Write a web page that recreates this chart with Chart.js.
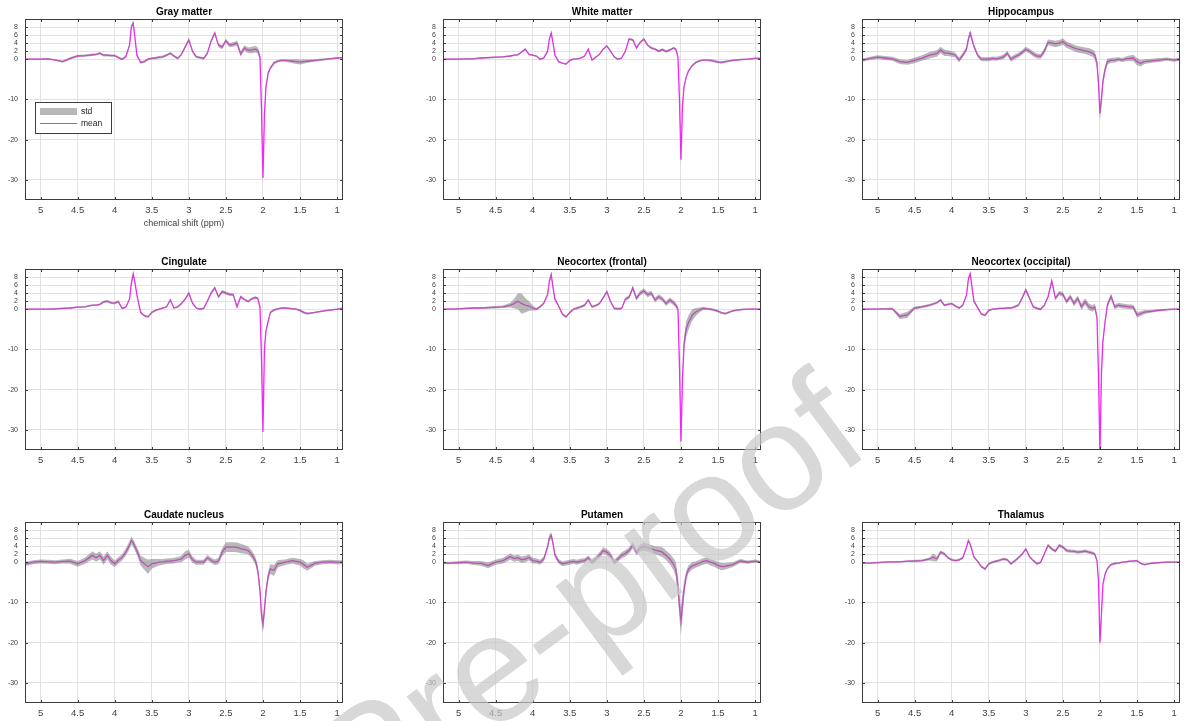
<!DOCTYPE html>
<html>
<head>
<meta charset="utf-8">
<script src="https://cdn.jsdelivr.net/npm/chart.js@4.4.1/dist/chart.umd.min.js"></script>
<style>
  html, body { margin: 0; padding: 0; background: #fff; }
  body { position: relative; width: 1186px; height: 721px; overflow: hidden; }
  canvas { position: absolute; }
  #wm { position: absolute; left: 0; top: 0; pointer-events: none; }
</style>
</head>
<body>
<script>
// chemical shift grid (ppm), shared by every panel
const ppm = [
  5.20, 5.10, 5.00, 4.90, 4.80, 4.70, 4.60, 4.50, 4.40, 4.30,
  4.25, 4.20, 4.15, 4.10, 4.05, 4.00, 3.95, 3.90, 3.85, 3.80,
  3.775, 3.75, 3.725, 3.70, 3.65, 3.60, 3.55, 3.50, 3.45, 3.40,
  3.35, 3.30, 3.25, 3.20, 3.15, 3.10, 3.05, 3.00, 2.95, 2.90,
  2.85, 2.80, 2.75, 2.70, 2.65, 2.60, 2.55, 2.50, 2.45, 2.40,
  2.35, 2.30, 2.25, 2.20, 2.15, 2.10, 2.07, 2.04, 2.02, 2.00,
  1.98, 1.96, 1.93, 1.90, 1.85, 1.80, 1.75, 1.70, 1.65, 1.60,
  1.55, 1.50, 1.45, 1.40, 1.30, 1.20, 1.10, 1.00, 0.92
];
const xTicks = [5, 4.5, 4, 3.5, 3, 2.5, 2, 1.5, 1];
const yTicks = [-30, -20, -10, 0, 2, 4, 6, 8];

const grayMean = [
  0, 0, 0, 0.1, -0.2, -0.6, 0.2, 0.8, 0.9, 1.1,
  1.2, 1.5, 1.0, 1.0, 0.9, 0.9, 0.4, 0.0, 0.6, 3.5,
  8.0, 9.0, 5.0, 1.0, -0.8, -0.6, 0.0, 0.2, 0.3, 0.5,
  0.6, 1.0, 1.5, 0.8, 0.2, 1.2, 3.0, 4.8, 2.0, 0.6,
  0.4, 0.2, 1.5, 4.5, 6.5, 3.5, 3.0, 4.6, 3.5, 3.7,
  4.0, 1.3, 2.8, 2.2, 2.3, 2.5, 2.2, 0.5, -12, -29.5,
  -14, -7, -3.5, -2.2, -0.9, -0.5, -0.3, -0.3, -0.4, -0.5,
  -0.6, -0.7, -0.6, -0.5, -0.3, -0.1, 0.1, 0.3, 0.4
];
const grayStd = [
  0.2, 0.2, 0.2, 0.2, 0.2, 0.3, 0.3, 0.3, 0.3, 0.3,
  0.3, 0.3, 0.3, 0.3, 0.3, 0.3, 0.3, 0.3, 0.3, 0.4,
  0.5, 0.5, 0.5, 0.4, 0.3, 0.3, 0.3, 0.3, 0.3, 0.3,
  0.3, 0.3, 0.3, 0.3, 0.3, 0.3, 0.4, 0.5, 0.4, 0.3,
  0.3, 0.3, 0.3, 0.4, 0.5, 0.5, 0.5, 0.5, 0.5, 0.6,
  0.6, 0.7, 0.7, 0.7, 0.8, 0.8, 0.8, 0.8, 1.0, 1.2,
  1.0, 0.8, 0.5, 0.4, 0.4, 0.3, 0.3, 0.3, 0.4, 0.5,
  0.6, 0.6, 0.5, 0.4, 0.3, 0.3, 0.2, 0.2, 0.2
];

const whiteMean = [
  0, 0, 0, 0.1, 0.1, 0.3, 0.4, 0.5, 0.6, 0.8,
  1.0, 1.1, 1.8, 2.5, 1.2, 1.0, 0.8, 0.0, 0.3, 2.0,
  5.0, 6.5, 4.0, 1.0, -0.6, -1.0, -1.2, -0.3, 0.0, 0.1,
  0.3, 0.8, 2.5, -0.2, 0.5, 1.2, 2.5, 3.3, 2.0, 0.6,
  0.0, 0.3, 2.0, 5.0, 4.8, 2.8, 4.2, 5.0, 3.5, 2.8,
  2.5, 2.0, 2.4, 1.9, 2.3, 2.8, 2.5, 0.5, -10, -25,
  -12, -7, -4.5, -3.0, -1.6, -0.8, -0.4, -0.2, -0.2, -0.3,
  -0.5, -0.7, -0.8, -0.6, -0.3, -0.1, 0.0, 0.2, 0.2
];
const whiteStd = [
  0.2, 0.2, 0.2, 0.2, 0.2, 0.2, 0.2, 0.2, 0.2, 0.2,
  0.2, 0.2, 0.2, 0.3, 0.2, 0.2, 0.2, 0.2, 0.2, 0.3,
  0.3, 0.3, 0.3, 0.2, 0.2, 0.2, 0.2, 0.2, 0.2, 0.2,
  0.2, 0.2, 0.2, 0.2, 0.2, 0.2, 0.2, 0.2, 0.2, 0.2,
  0.2, 0.2, 0.2, 0.3, 0.3, 0.3, 0.3, 0.3, 0.3, 0.3,
  0.3, 0.3, 0.3, 0.3, 0.3, 0.3, 0.3, 0.4, 0.8, 1.5,
  0.8, 0.5, 0.4, 0.3, 0.3, 0.3, 0.2, 0.2, 0.2, 0.3,
  0.3, 0.3, 0.3, 0.3, 0.2, 0.2, 0.2, 0.2, 0.2
];

const hippoMean = [
  -0.2, 0.2, 0.5, 0.3, 0.1, -0.6, -0.8, -0.3, 0.3, 1.0,
  1.2, 1.4, 2.3, 1.6, 1.5, 1.3, 1.0, -0.2, 1.0, 2.5,
  5.0, 6.5, 4.8, 3.2, 1.0, 0.0, 0.0, 0.0, 0.2, 0.1,
  0.3, 0.6, 1.5, 0.0, 0.6, 1.0, 1.7, 2.5, 2.0, 1.3,
  0.8, 0.7, 2.0, 4.2, 4.0, 3.8, 4.0, 4.4, 3.6, 3.2,
  2.8, 2.5, 2.3, 2.1, 1.9, 1.5, 1.0, -1.0, -6, -13.5,
  -10, -5.5, -2.5, -0.6, -0.3, -0.2, 0.0, -0.2, 0.1, 0.2,
  0.3, -0.6, -1.0, -0.6, -0.4, -0.2, 0.0, -0.2, 0.0
];
const hippoStd = [
  0.4, 0.4, 0.5, 0.5, 0.5, 0.6, 0.6, 0.7, 0.7, 0.8,
  0.8, 0.8, 0.8, 0.8, 0.7, 0.7, 0.6, 0.6, 0.6, 0.6,
  0.7, 0.7, 0.6, 0.6, 0.5, 0.5, 0.5, 0.5, 0.5, 0.5,
  0.5, 0.6, 0.6, 0.6, 0.6, 0.6, 0.6, 0.6, 0.6, 0.6,
  0.6, 0.6, 0.7, 0.7, 0.8, 0.8, 0.8, 0.8, 0.8, 0.8,
  0.8, 0.8, 0.8, 0.8, 0.9, 0.9, 1.0, 1.2, 1.6, 2.0,
  1.6, 1.2, 1.0, 0.8, 0.6, 0.6, 0.5, 0.5, 0.6, 0.7,
  0.8, 0.9, 0.8, 0.6, 0.5, 0.5, 0.4, 0.4, 0.4
];

const cingMean = [
  0, 0, 0, 0, 0.1, 0.2, 0.3, 0.5, 0.6, 1.0,
  1.0, 1.2, 1.8, 2.0, 1.6, 1.5, 1.9, 0.2, 0.5, 2.5,
  6.5, 8.8, 6.5, 3.5, -0.8, -1.6, -1.9, -0.8, -0.3, 0.0,
  0.3, 0.6, 2.3, 0.3, 0.6, 1.4, 2.5, 4.0, 1.5, 0.3,
  0.0, 0.2, 2.0, 4.0, 5.3, 3.1, 4.4, 4.0, 3.7, 3.6,
  0.6, 3.1, 2.4, 1.9, 2.6, 2.9, 2.7, 0.5, -12, -30.5,
  -10, -5.5, -3.0, -0.8, -0.2, 0.1, 0.3, 0.3, 0.2, 0.1,
  0.0, -0.3, -0.8, -1.1, -0.8, -0.5, -0.2, 0.0, 0.3
];
const cingStd = [
  0.2, 0.2, 0.2, 0.2, 0.2, 0.2, 0.2, 0.2, 0.2, 0.2,
  0.2, 0.2, 0.3, 0.3, 0.3, 0.3, 0.3, 0.2, 0.2, 0.3,
  0.4, 0.4, 0.4, 0.3, 0.3, 0.3, 0.3, 0.3, 0.2, 0.2,
  0.2, 0.2, 0.3, 0.2, 0.2, 0.3, 0.3, 0.4, 0.3, 0.2,
  0.2, 0.2, 0.3, 0.4, 0.4, 0.4, 0.4, 0.4, 0.4, 0.4,
  0.4, 0.4, 0.3, 0.3, 0.3, 0.3, 0.3, 0.4, 0.8, 1.0,
  0.8, 0.5, 0.4, 0.3, 0.3, 0.2, 0.2, 0.2, 0.2, 0.2,
  0.2, 0.3, 0.3, 0.3, 0.2, 0.2, 0.2, 0.2, 0.2
];

const frontMean = [
  0, 0, 0.1, 0.2, 0.3, 0.3, 0.4, 0.5, 0.6, 1.0,
  1.4, 2.0, 1.4, 1.0, 0.8, 0.3, 0.0, 0.6, 1.5, 3.6,
  7.0, 8.6, 5.3, 2.5, 0.8, -1.2, -1.9, -0.8, 0.0, 0.3,
  0.6, 1.0, 2.3, 0.6, 0.9, 1.4, 2.8, 4.4, 1.9, 0.2,
  0.1, 0.2, 2.5, 3.0, 5.3, 2.7, 4.0, 4.6, 3.6, 4.0,
  2.3, 3.1, 2.5, 1.4, 2.3, 1.6, 1.0, 0.0, -14, -32.9,
  -18, -9, -5, -3.4, -1.5, -0.7, -0.2, 0.2, 0.1, 0.0,
  -0.2, -0.5, -0.9, -1.1, -0.4, -0.1, 0.0, 0.0, 0.0
];
const frontStd = [
  0.2, 0.2, 0.2, 0.2, 0.2, 0.2, 0.3, 0.3, 0.3, 0.6,
  1.2, 2.0, 2.5, 1.8, 1.2, 0.6, 0.3, 0.3, 0.3, 0.4,
  0.5, 0.5, 0.5, 0.4, 0.3, 0.3, 0.3, 0.3, 0.3, 0.3,
  0.3, 0.3, 0.3, 0.3, 0.3, 0.3, 0.3, 0.4, 0.3, 0.3,
  0.3, 0.3, 0.4, 0.5, 0.6, 0.6, 0.6, 0.6, 0.6, 0.6,
  0.6, 0.6, 0.6, 0.6, 0.6, 0.6, 0.6, 0.6, 1.0, 1.0,
  1.5, 2.0, 2.0, 1.8, 1.4, 1.0, 0.6, 0.4, 0.3, 0.3,
  0.3, 0.3, 0.3, 0.3, 0.2, 0.2, 0.2, 0.2, 0.2
];

const occMean = [
  0, 0, 0, 0.1, 0.1, -1.8, -1.4, 0.3, 0.6, 1.0,
  1.3, 1.6, 2.3, 1.0, 1.2, 1.4, 0.8, 0.3, 1.0, 3.5,
  7.5, 8.8, 5.3, 2.0, 0.4, -1.2, -1.5, -0.3, 0.0, 0.1,
  0.2, 0.2, 0.3, 0.3, 0.6, 1.0, 2.8, 4.8, 2.7, 0.6,
  0.2, 0.0, 1.0, 3.1, 7.0, 2.7, 4.0, 3.7, 1.9, 3.1,
  1.4, 2.7, 0.6, 1.9, 0.6, 0.2, 0.6, -2, -16, -36,
  -16, -8, -3, 1.0, 3.2, 0.6, 1.0, 0.8, 0.7, 0.6,
  0.5, -1.4, -1.1, -0.7, -0.5, -0.25, -0.1, 0.0, 0.0
];
const occStd = [
  0.2, 0.2, 0.2, 0.2, 0.3, 0.6, 0.8, 0.4, 0.3, 0.3,
  0.3, 0.3, 0.3, 0.3, 0.3, 0.3, 0.3, 0.3, 0.3, 0.4,
  0.5, 0.5, 0.5, 0.4, 0.3, 0.3, 0.3, 0.3, 0.2, 0.2,
  0.2, 0.2, 0.2, 0.2, 0.3, 0.3, 0.4, 0.5, 0.4, 0.3,
  0.3, 0.3, 0.3, 0.4, 0.5, 0.5, 0.5, 0.6, 0.6, 0.6,
  0.7, 0.7, 0.8, 0.8, 0.8, 0.8, 0.8, 0.8, 1.0, 1.2,
  1.0, 0.8, 0.7, 0.7, 0.7, 0.6, 0.6, 0.6, 0.6, 0.6,
  0.6, 0.7, 0.6, 0.5, 0.3, 0.3, 0.2, 0.2, 0.2
];

const caudMean = [
  -0.4, 0.0, 0.2, 0.1, 0.0, 0.2, 0.25, -0.4, 0.4, 1.7,
  1.1, 1.7, 0.4, 1.7, 0.4, -0.4, 0.5, 1.2, 2.5, 4.2,
  5.4, 4.8, 3.8, 2.8, 0.4, -0.4, -1.1, -0.4, -0.2, 0.0,
  0.1, 0.25, 0.3, 0.4, 0.6, 0.8, 1.7, 2.1, 0.6, 0.0,
  0.0, 0.0, 1.1, 0.5, 0.0, 0.3, 2.5, 3.75, 3.75, 3.75,
  3.7, 3.4, 3.2, 2.9, 1.9, 0.3, -2, -7, -13, -15.5,
  -12, -7.5, -3.5, -1.7, -2.0, -0.4, -0.2, 0.0, 0.2, 0.4,
  0.2, 0.0, -0.6, -1.25, -0.3, 0.0, 0.1, 0.0, 0.0
];
const caudStd = [
  0.5, 0.5, 0.5, 0.5, 0.5, 0.5, 0.6, 0.7, 0.8, 1.0,
  1.0, 1.0, 1.0, 1.0, 1.0, 0.8, 0.8, 0.8, 0.9, 1.0,
  1.0, 1.0, 1.0, 1.0, 1.2, 1.5, 1.8, 1.2, 1.0, 0.8,
  0.7, 0.7, 0.7, 0.7, 0.7, 0.8, 1.0, 1.0, 0.8, 0.6,
  0.6, 0.6, 0.7, 0.7, 0.7, 0.8, 1.0, 1.2, 1.2, 1.2,
  1.2, 1.2, 1.1, 1.0, 1.0, 1.0, 1.2, 1.5, 1.8, 2.0,
  1.8, 1.5, 1.2, 1.2, 1.4, 0.9, 0.8, 0.7, 0.7, 0.7,
  0.8, 0.8, 1.0, 0.9, 0.6, 0.5, 0.5, 0.5, 0.5
];

const putMean = [
  -0.2, -0.2, -0.1, 0.0, -0.2, -0.3, -0.8, 0.0, 0.4, 1.4,
  0.9, 1.1, 0.6, 0.8, 1.2, 0.4, 0.3, 0.0, 0.8, 3.75,
  6.0, 6.7, 4.6, 1.8, 0.2, -0.4, -0.2, 0.0, 0.2, 0.0,
  0.3, 0.4, 1.1, 0.0, 0.8, 1.7, 2.9, 2.5, 1.7, 0.0,
  0.8, 1.7, 2.2, 2.9, 4.2, 2.5, 3.5, 3.9, 3.6, 3.3,
  3.0, 2.8, 2.5, 1.7, 0.8, -0.5, -1.7, -6, -11, -14.6,
  -11, -7, -3.5, -1.8, -0.9, -0.6, -0.2, 0.2, 0.4, 0.0,
  -0.3, -0.8, -1.1, -1.0, -0.6, 0.3, 0.0, 0.25, 0.0
];
const putStd = [
  0.3, 0.3, 0.4, 0.4, 0.5, 0.6, 0.7, 0.6, 0.7, 0.8,
  0.8, 0.8, 0.8, 0.8, 0.8, 0.7, 0.6, 0.6, 0.6, 0.7,
  0.8, 0.8, 0.8, 0.6, 0.6, 0.6, 0.6, 0.6, 0.6, 0.6,
  0.6, 0.6, 0.6, 0.6, 0.7, 0.8, 0.8, 0.8, 0.8, 0.7,
  0.7, 0.8, 0.8, 0.8, 0.8, 0.8, 0.9, 1.0, 1.0, 1.0,
  1.0, 1.1, 1.2, 1.2, 1.3, 1.5, 1.8, 2.5, 3.0, 3.5,
  3.0, 2.0, 1.2, 1.0, 0.9, 0.8, 0.8, 0.8, 0.8, 0.8,
  0.8, 0.9, 0.9, 0.8, 0.6, 0.5, 0.4, 0.4, 0.3
];

const thalMean = [
  -0.2, -0.2, -0.1, 0.0, 0.1, 0.1, 0.25, 0.3, 0.4, 0.8,
  1.25, 0.8, 2.5, 2.1, 1.1, 0.6, 0.4, 0.6, 1.1, 3.75,
  5.4, 4.5, 2.9, 1.3, 0.2, -1.1, -1.7, -0.4, 0.0, 0.25,
  0.5, 0.8, 0.6, -0.4, 0.3, 1.1, 2.0, 3.3, 1.4, 0.4,
  -0.4, 0.0, 2.1, 4.2, 3.3, 2.75, 4.2, 3.75, 2.9, 2.75,
  2.7, 2.5, 2.6, 2.75, 2.5, 2.25, 2.0, 0.4, -4.6, -20,
  -13, -5.5, -2.9, -1.6, -0.6, -0.3, -0.25, 0.0, 0.1, 0.25,
  0.3, 0.4, -0.3, -0.6, -0.25, -0.1, 0.0, 0.0, 0.0
];
const thalStd = [
  0.2, 0.2, 0.2, 0.2, 0.2, 0.2, 0.2, 0.3, 0.3, 0.4,
  1.0, 0.6, 0.4, 0.4, 0.3, 0.3, 0.3, 0.3, 0.3, 0.3,
  0.4, 0.4, 0.3, 0.3, 0.3, 0.3, 0.3, 0.3, 0.3, 0.3,
  0.3, 0.3, 0.3, 0.3, 0.3, 0.3, 0.3, 0.3, 0.3, 0.3,
  0.3, 0.3, 0.3, 0.4, 0.4, 0.4, 0.4, 0.4, 0.4, 0.4,
  0.4, 0.4, 0.4, 0.4, 0.4, 0.4, 0.4, 0.5, 0.8, 1.0,
  0.8, 0.5, 0.4, 0.3, 0.3, 0.3, 0.2, 0.2, 0.2, 0.2,
  0.2, 0.2, 0.2, 0.2, 0.2, 0.2, 0.2, 0.2, 0.2
];

const panels = [
  { title: 'Gray matter', mean: grayMean, std: grayStd, legend: true, xlabel: true },
  { title: 'White matter', mean: whiteMean, std: whiteStd },
  { title: 'Hippocampus', mean: hippoMean, std: hippoStd },
  { title: 'Cingulate', mean: cingMean, std: cingStd },
  { title: 'Neocortex (frontal)', mean: frontMean, std: frontStd },
  { title: 'Neocortex (occipital)', mean: occMean, std: occStd },
  { title: 'Caudate nucleus', mean: caudMean, std: caudStd },
  { title: 'Putamen', mean: putMean, std: putStd },
  { title: 'Thalamus', mean: thalMean, std: thalStd },
];

const FONT = '"Liberation Sans", Arial, sans-serif';
const MEAN_COLOR = '#ff1fff';
const BAND_COLOR = 'rgba(125,125,125,0.55)';
const AXIS_COLOR = '#3c3c3c';
const TEXT_COLOR = '#404040';

const colLeft = [25, 443, 862];
const rowTop = [19, 269, 522];
const plotW = 318, plotH = 181;
const padL = 28, padT = 16, padR = 8, padB = 34;

// box, inward ticks, title and (first panel) legend, MATLAB style
const frame = {
  id: 'frame',
  afterDraw(chart, args, o) {
    const { ctx, chartArea: a, scales: { x, y } } = chart;
    const line = (x1, y1, x2, y2) => { ctx.beginPath(); ctx.moveTo(x1, y1); ctx.lineTo(x2, y2); ctx.stroke(); };
    ctx.save();
    ctx.strokeStyle = AXIS_COLOR;
    ctx.lineWidth = 1;
    ctx.strokeRect(Math.round(a.left) + 0.5, Math.round(a.top) + 0.5,
      Math.round(a.right - a.left) - 1, Math.round(a.bottom - a.top) - 1);
    xTicks.forEach((v) => {
      const px = Math.round(x.getPixelForValue(v)) + 0.5;
      line(px, a.top, px, a.top + 3);
      line(px, a.bottom, px, a.bottom - 3);
    });
    yTicks.forEach((v) => {
      const py = Math.round(y.getPixelForValue(v)) + 0.5;
      line(a.left, py, a.left + 3, py);
      line(a.right, py, a.right - 3, py);
    });

    ctx.fillStyle = '#000';
    ctx.font = `bold 10px ${FONT}`;
    ctx.textAlign = 'center';
    ctx.textBaseline = 'middle';
    ctx.fillText(o.title, (a.left + a.right) / 2, a.top - 7);

    if (o.legend) {
      const bx = Math.round(a.left) + 10, by = Math.round(a.top) + 83;
      ctx.fillStyle = '#fff';
      ctx.fillRect(bx, by, 76, 31);
      ctx.strokeStyle = AXIS_COLOR;
      ctx.strokeRect(bx + 0.5, by + 0.5, 76, 31);
      ctx.fillStyle = BAND_COLOR;
      ctx.fillRect(bx + 5, by + 6, 37, 7);
      ctx.strokeStyle = MEAN_COLOR;
      ctx.lineWidth = 1.2;
      line(bx + 5, by + 21.5, bx + 42, by + 21.5);
      ctx.fillStyle = '#222';
      ctx.font = `8.5px ${FONT}`;
      ctx.textAlign = 'left';
      ctx.fillText('std', bx + 46, by + 9.5);
      ctx.fillText('mean', bx + 46, by + 22);
    }
    ctx.restore();
  }
};

panels.forEach((p, i) => {
  const cv = document.createElement('canvas');
  cv.width = padL + plotW + padR;
  cv.height = padT + plotH + padB;
  cv.style.left = (colLeft[i % 3] - padL) + 'px';
  cv.style.top = (rowTop[Math.floor(i / 3)] - padT) + 'px';
  document.body.appendChild(cv);

  const meanPts = ppm.map((v, k) => ({ x: v, y: p.mean[k] }));
  const upPts = ppm.map((v, k) => ({ x: v, y: p.mean[k] + p.std[k] }));
  const loPts = ppm.map((v, k) => ({ x: v, y: p.mean[k] - p.std[k] }));

  new Chart(cv, {
    type: 'line',
    data: {
      datasets: [
        { label: 'std', data: upPts, borderWidth: 0, borderColor: 'rgba(0,0,0,0)',
          backgroundColor: BAND_COLOR, fill: '+1', pointRadius: 0, order: 0 },
        { label: 'std-low', data: loPts, borderWidth: 0, borderColor: 'rgba(0,0,0,0)',
          fill: false, pointRadius: 0, order: 1 },
        { label: 'mean', data: meanPts, borderColor: MEAN_COLOR, borderWidth: 1.3,
          fill: false, pointRadius: 0, order: 2 },
      ],
    },
    options: {
      responsive: false,
      animation: false,
      devicePixelRatio: 1,
      layout: { padding: { top: padT, right: padR, left: 0, bottom: 0 } },
      scales: {
        x: {
          type: 'linear', reverse: true, min: 0.92, max: 5.21,
          afterBuildTicks: (s) => { s.ticks = xTicks.map((v) => ({ value: v })); },
          afterFit: (s) => { s.height = padB; },
          ticks: { autoSkip: false, maxRotation: 0, padding: 5, color: TEXT_COLOR,
            font: { size: 9.5, family: FONT }, callback: (v) => String(v) },
          grid: { color: '#e2e2e2', drawTicks: false },
          border: { display: false },
          title: { display: !!p.xlabel, text: 'chemical shift (ppm)', color: TEXT_COLOR,
            font: { size: 9, family: FONT }, padding: { top: 0, bottom: 5 } },
        },
        y: {
          type: 'linear', min: -35, max: 10,
          afterBuildTicks: (s) => { s.ticks = yTicks.map((v) => ({ value: v })); },
          afterFit: (s) => { s.width = padL; },
          ticks: { autoSkip: false, padding: 7, color: TEXT_COLOR,
            font: { size: 7, family: FONT }, callback: (v) => String(v) },
          grid: { color: '#e2e2e2', drawTicks: false },
          border: { display: false },
        },
      },
      plugins: {
        legend: { display: false },
        tooltip: { enabled: false },
        frame: { title: p.title, legend: !!p.legend },
      },
    },
    plugins: [frame],
  });
});
</script>
<svg id="wm" width="1186" height="721" xmlns="http://www.w3.org/2000/svg">
  <text x="-70" y="1149" transform="rotate(-36.5 -70 1149)" font-family="Liberation Sans, Arial, sans-serif"
        font-size="152" fill="#c8c8c8" fill-opacity="0.7">Journal Pre-proof</text>
</svg>
</body>
</html>
